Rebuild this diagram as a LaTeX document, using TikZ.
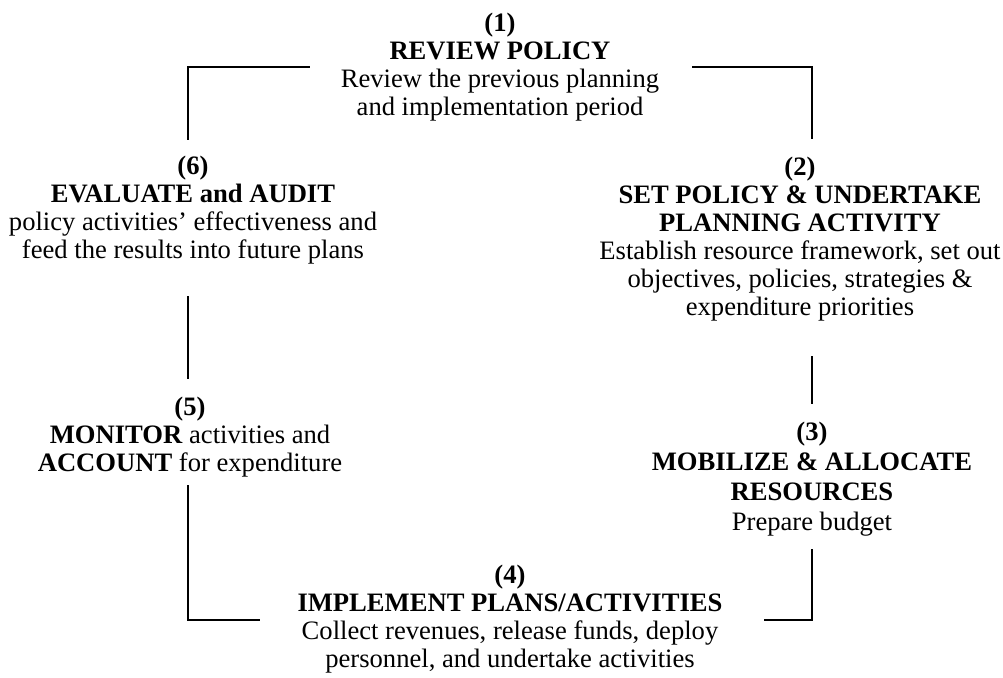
\documentclass[tikz,border=0pt]{standalone}
\usepackage{fontspec}
\setmainfont{Liberation Serif}
\usepackage{tikz}

\tikzset{
	stage/.style = {align = center, inner sep = 0pt, font = \fontsize{13.3}{14}\selectfont},
	link/.style = {line width = 0.8pt, line cap = rect}
}

\begin{document}
\begin{tikzpicture}[x = 0.5pt, y = -0.5pt]
			\useasboundingbox (0,0) rectangle (1003,677);
			
			\def\xl{188};
			\def\xr{812};
			
			\node [stage] (review) at (500,67) {\textbf{(1)}\\\textbf{REVIEW POLICY}\\Review the previous planning\\and implementation period};
			\node [stage] (setpolicy) at (800,239) {\textbf{(2)}\\\textbf{SET POLICY \& UNDERTAKE}\\\textbf{PLANNING ACTIVITY}\\Establish resource framework, set out\\objectives, policies, strategies \&\\expenditure priorities};
			\node [stage, font = \fontsize{13.3}{15}\selectfont] (mobilize) at (812,479) {\textbf{(3)}\\\textbf{MOBILIZE \& ALLOCATE}\\\textbf{RESOURCES}\\Prepare budget};
			\node [stage] (implement) at (510,619) {\textbf{(4)}\\\textbf{IMPLEMENT PLANS/ACTIVITIES}\\Collect revenues, release funds, deploy\\personnel, and undertake activities};
			\node [stage] (monitor) at (190,437) {\textbf{(5)}\\\textbf{MONITOR} activities and\\\textbf{ACCOUNT} for expenditure};
			\node [stage] (evaluate) at (193,210) {\textbf{(6)}\\\textbf{EVALUATE and AUDIT}\\policy activities’ effectiveness and\\feed the results into future plans};
			
			% corners and loose ends of the cycle
			\coordinate (tl) at (\xl,67);
			\coordinate (tr) at (\xr,67);
			\coordinate (bl) at (\xl,620);
			\coordinate (br) at (\xr,620);
			
			\coordinate (tl1) at (309,67);
			\coordinate (tl2) at (\xl,139);
			\coordinate (tr1) at (693,67);
			\coordinate (tr2) at (\xr,138);
			\coordinate (lm1) at (\xl,297);
			\coordinate (lm2) at (\xl,378);
			\coordinate (rm1) at (\xr,357);
			\coordinate (rm2) at (\xr,403);
			\coordinate (bl1) at (\xl,486);
			\coordinate (bl2) at (259,620);
			\coordinate (br1) at (\xr,550);
			\coordinate (br2) at (765,620);
			
			\begin{scope}[link]
				\draw (tl1) -- (tl) -- (tl2);
				\draw (tr1) -- (tr) -- (tr2);
				\draw (lm1) -- (lm2);
				\draw (rm1) -- (rm2);
				\draw (bl1) -- (bl) -- (bl2);
				\draw (br1) -- (br) -- (br2);
			\end{scope}
		\end{tikzpicture}
\end{document}
